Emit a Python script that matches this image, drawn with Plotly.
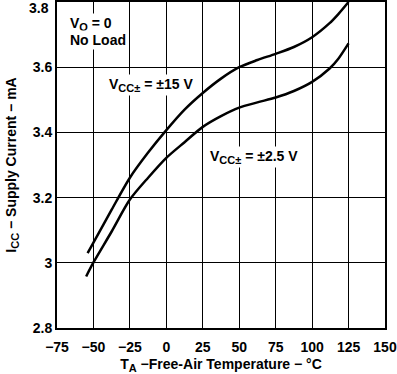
import plotly.graph_objects as go

temp_15 = [-54, -50, -37.5, -25, -12.5, 0, 12.5, 25, 37.5, 50, 62.5, 75, 87.5, 100, 112, 118, 125]
icc_15 = [3.03, 3.062, 3.163, 3.261, 3.338, 3.407, 3.47, 3.521, 3.565, 3.60, 3.622, 3.641, 3.662, 3.692, 3.735, 3.763, 3.80]

temp_25 = [-55, -50, -37.5, -25, -12.5, 0, 12.5, 25, 37.5, 50, 62.5, 75, 87.5, 100, 112, 118, 125]
icc_25 = [2.958, 3.001, 3.096, 3.194, 3.261, 3.322, 3.37, 3.417, 3.45, 3.476, 3.492, 3.507, 3.527, 3.555, 3.596, 3.626, 3.673]

x_ticks = [-75, -50, -25, 0, 25, 50, 75, 100, 125, 150]
y_ticks = [2.8, 3.0, 3.2, 3.4, 3.6, 3.8]
y_ticktext = ["2.8", "3", "3.2", "3.4", "3.6", ""]

FONT = "Liberation Sans, Arial, Helvetica, sans-serif"


def sub(s):
    return '<sub><span style="font-size:11px">' + s + '</span></sub>'


fig = go.Figure()
for xs, ys in [(temp_15, icc_15), (temp_25, icc_25)]:
    fig.add_trace(go.Scatter(x=xs, y=ys, mode="lines",
                             line=dict(color="black", width=2.5, shape="spline", smoothing=0.8),
                             showlegend=False, hoverinfo="skip"))

ann_font = dict(family=FONT, size=14, color="black", weight="bold")
annotations = [
    dict(x=-67.5, y=3.734, text="V" + sub("O") + " = 0", xanchor="left", yanchor="middle"),
    dict(x=-67.5, y=3.683, text="No Load", xanchor="left", yanchor="middle"),
    dict(x=-40.7, y=3.546, text="V" + sub("CC±") + " = ±15 V", xanchor="left", yanchor="middle"),
    dict(x=28.6, y=3.326, text="V" + sub("CC±") + " = ±2.5 V", xanchor="left", yanchor="middle"),
]
for a in annotations:
    a.update(showarrow=False, font=ann_font, bgcolor="white", borderpad=1)
# top y tick label, placed just below the frame edge so it is not clipped
annotations.append(dict(x=0, xref="paper", xanchor="right", xshift=-6,
                        y=1, yref="paper", yanchor="top", yshift=4,
                        text="3.8", showarrow=False, font=ann_font))

fig.update_layout(
    template="none",
    width=397, height=374,
    margin=dict(l=57, r=12, t=2, b=46),
    paper_bgcolor="white", plot_bgcolor="white",
    font=dict(family=FONT, size=14, color="black", weight="bold"),
    annotations=annotations,
)
axis_common = dict(showgrid=True, gridcolor="black", gridwidth=1,
                   showline=True, linecolor="black", linewidth=2, mirror=True,
                   ticks="", zeroline=False, automargin=False, layer="above traces",
                   tickfont=dict(family=FONT, size=14, weight="bold", color="black"))
fig.update_xaxes(range=[-75, 150], tickvals=x_ticks, ticklabelstandoff=5, **axis_common,
                 title=dict(text="T" + sub("A") + " −Free-Air Temperature − °C", standoff=8,
                            font=dict(family=FONT, size=14, weight="bold")))
fig.update_yaxes(range=[2.8, 3.8], tickvals=y_ticks, ticktext=y_ticktext, **axis_common,
                 title=dict(text="I" + sub("CC") + " − Supply Current − mA", standoff=13,
                            font=dict(family=FONT, size=14, weight="bold")))

fig.write_html("out.html",
               config={"displayModeBar": False},
               post_script="document.body.style.margin='0';document.body.style.padding='0';")
